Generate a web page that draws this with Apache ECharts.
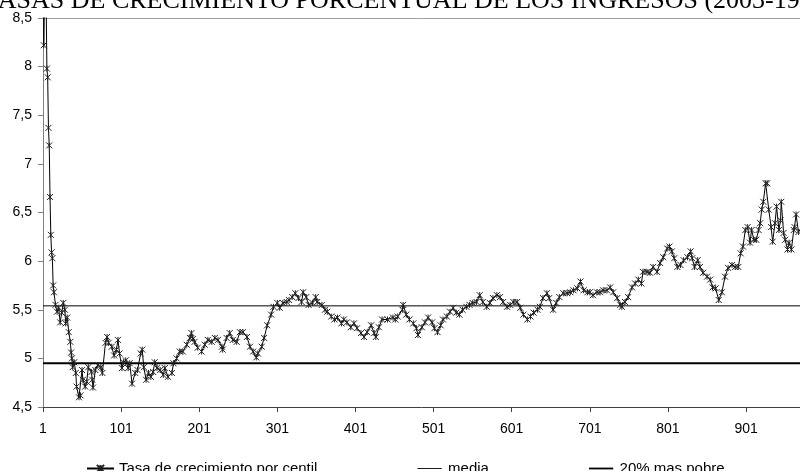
<!DOCTYPE html>
<html>
<head>
<meta charset="utf-8">
<title>Tasas de crecimiento porcentual de los ingresos</title>
<script src="https://cdn.jsdelivr.net/npm/echarts@6/dist/echarts.min.js"></script>
<style>
  html, body { margin: 0; padding: 0; background: #fff; }
  #chart { width: 800px; height: 471px; }
</style>
</head>
<body>
<div id="chart"></div>
<script>
var myChart = echarts.init(document.getElementById('chart'));

// centiles (x) and their growth rate (y)
var centil = [
    1, 2, 4, 6, 7, 8, 9, 10, 11, 12, 13, 14, 15, 17, 19, 21, 23, 25, 27, 29,
    30, 32, 34, 36, 37, 38, 39, 41, 43, 44, 47, 49, 51, 52, 55, 57, 59, 63, 64, 65,
    68, 71, 75, 77, 81, 83, 85, 89, 92, 95, 97, 99, 102, 104, 107, 110, 112, 115, 119, 122,
    126, 128, 130, 133, 136, 139, 142, 144, 147, 151, 155, 157, 161, 166, 168, 172, 176, 180, 185, 189,
    191, 193, 195, 199, 204, 208, 212, 217, 221, 225, 230, 231, 236, 240, 244, 249, 253, 257, 262, 266,
    270, 274, 276, 281, 284, 288, 293, 296, 301, 304, 308, 313, 316, 320, 324, 328, 332, 334, 338, 341,
    346, 350, 352, 358, 362, 365, 370, 374, 378, 383, 386, 390, 395, 399, 403, 408, 412, 416, 421, 425,
    427, 431, 435, 442, 449, 452, 455, 461, 462, 466, 470, 475, 479, 481, 486, 490, 494, 499, 502, 506,
    510, 513, 518, 522, 526, 530, 534, 538, 543, 547, 551, 556, 560, 564, 569, 573, 577, 582, 586, 590,
    595, 599, 603, 608, 612, 616, 621, 625, 629, 634, 637, 641, 646, 649, 654, 658, 662, 667, 672, 676,
    680, 685, 689, 693, 698, 701, 705, 710, 714, 718, 723, 727, 731, 736, 740, 742, 746, 750, 755, 759,
    763, 767, 769, 774, 778, 782, 787, 791, 795, 800, 803, 806, 809, 813, 817, 821, 826, 830, 832, 835,
    839, 842, 846, 851, 855, 858, 862, 866, 870, 874, 878, 883, 887, 891, 894, 897, 900, 903, 906, 908,
    911, 914, 917, 919, 921, 923, 926, 928, 930, 933, 935, 938, 940, 943, 945, 946, 949, 951, 954, 956,
    959, 962, 963, 965, 968, 972
];
var tasa = [
    10.4, 8.22, 9.4, 7.98, 7.89, 7.37, 7.19, 6.66, 6.27, 6.09, 6.03, 5.75, 5.68, 5.55, 5.48, 5.52, 5.37, 5.47, 5.57, 5.5,
    5.36, 5.42, 5.27, 5.17, 5.06, 5.0, 4.91, 4.96, 4.85, 4.71, 4.6, 4.62, 4.88, 4.78, 4.71, 4.76, 4.91, 4.86, 4.78, 4.7,
    4.88, 4.93, 4.91, 4.85, 5.16, 5.22, 5.16, 5.12, 5.03, 5.09, 5.19, 5.05, 4.9, 4.96, 4.98, 4.9, 4.95, 4.74, 4.85, 4.88,
    5.05, 5.09, 4.91, 4.78, 4.85, 4.81, 4.86, 4.96, 4.9, 4.88, 4.83, 4.9, 4.81, 4.85, 4.95, 5.0, 5.07, 5.07, 5.14, 5.21,
    5.26, 5.2, 5.17, 5.11, 5.07, 5.14, 5.19, 5.17, 5.21, 5.19, 5.12, 5.09, 5.21, 5.26, 5.19, 5.17, 5.27, 5.27, 5.22, 5.12,
    5.07, 5.01, 5.05, 5.12, 5.21, 5.34, 5.45, 5.53, 5.57, 5.52, 5.57, 5.58, 5.6, 5.63, 5.67, 5.62, 5.58, 5.68, 5.63, 5.55,
    5.57, 5.63, 5.58, 5.55, 5.5, 5.48, 5.43, 5.4, 5.42, 5.36, 5.4, 5.37, 5.32, 5.36, 5.31, 5.26, 5.22, 5.27, 5.34, 5.26,
    5.22, 5.32, 5.4, 5.4, 5.42, 5.4, 5.43, 5.5, 5.55, 5.45, 5.4, 5.36, 5.31, 5.24, 5.32, 5.37, 5.42, 5.37, 5.31, 5.27,
    5.34, 5.4, 5.43, 5.48, 5.52, 5.47, 5.45, 5.5, 5.53, 5.55, 5.57, 5.58, 5.65, 5.58, 5.53, 5.57, 5.62, 5.65, 5.63, 5.58,
    5.53, 5.55, 5.58, 5.58, 5.52, 5.45, 5.4, 5.43, 5.47, 5.5, 5.53, 5.62, 5.67, 5.62, 5.5, 5.57, 5.63, 5.67, 5.67, 5.68,
    5.7, 5.72, 5.79, 5.7, 5.68, 5.68, 5.65, 5.68, 5.68, 5.7, 5.7, 5.73, 5.68, 5.62, 5.55, 5.53, 5.58, 5.63, 5.73, 5.77,
    5.81, 5.77, 5.89, 5.89, 5.88, 5.94, 5.89, 5.98, 6.04, 6.13, 6.15, 6.1, 6.03, 5.94, 5.96, 6.01, 6.04, 6.1, 6.03, 5.94,
    6.01, 5.94, 5.88, 5.84, 5.81, 5.73, 5.72, 5.6, 5.68, 5.84, 5.93, 5.96, 5.94, 5.94, 6.08, 6.15, 6.32, 6.35, 6.19, 6.32,
    6.22, 6.22, 6.32, 6.39, 6.53, 6.61, 6.8, 6.8, 6.53, 6.35, 6.2, 6.39, 6.56, 6.32, 6.42, 6.61, 6.29, 6.22, 6.12, 6.19,
    6.12, 6.32, 6.35, 6.48, 6.3, 6.35
];
var media = 5.54;
var pobre20 = 4.95;
var xTicks = [1, 101, 201, 301, 401, 501, 601, 701, 801, 901];
// the picture is cut at the right edge, around centile 970
var xMin = 1, xMax = 970;

var tasaData = centil.map(function (c, i) { return [c, tasa[i]]; });

var option = {
    backgroundColor: '#fff',
    animation: false,
    title: {
        text: 'TASAS DE CRECIMIENTO PORCENTUAL DE LOS INGRESOS (2003-1998)',
        left: -16,
        top: -12,
        padding: 0,
        textStyle: {
            fontFamily: 'Liberation Serif',
            fontSize: 26,
            fontWeight: 'normal',
            color: '#000'
        }
    },
    legend: {
        left: 81,
        top: 456,
        itemGap: 100,
        itemWidth: 27,
        itemHeight: 9,
        textStyle: {
            fontFamily: 'Liberation Sans',
            fontSize: 15,
            color: '#000'
        },
        data: [
            { name: 'Tasa de crecimiento por centil' },
            { name: 'media', icon: 'path://M0,0L0,0M0,4.5L27,4.5L27,5.5L0,5.5ZM0,10L0,10' },
            { name: '20% mas pobre', icon: 'path://M0,0L0,0M0,4L27,4L27,6L0,6ZM0,10L0,10' }
        ]
    },
    grid: {
        left: 43,
        top: 18,
        right: 0,
        bottom: 64
    },
    xAxis: [
        {
            type: 'value',
            min: xMin,
            max: xMax,
            splitLine: { show: false },
            axisLine: { lineStyle: { color: '#404040' } },
            axisTick: {
                customValues: xTicks,
                length: 5,
                lineStyle: { color: '#404040' }
            },
            axisLabel: {
                customValues: xTicks,
                margin: 15,
                fontFamily: 'Liberation Sans',
                fontSize: 14,
                color: '#000'
            }
        },
        {
            // top border of the plot area
            type: 'value',
            position: 'top',
            min: xMin,
            max: xMax,
            splitLine: { show: false },
            axisLine: { show: true, lineStyle: { color: '#a0a0a0' } },
            axisTick: { show: false },
            axisLabel: { show: false }
        }
    ],
    yAxis: {
        type: 'value',
        min: 4.5,
        max: 8.5,
        interval: 0.5,
        splitLine: { show: false },
        axisLine: { show: true, lineStyle: { color: '#808080' } },
        axisTick: { show: true, length: 5, lineStyle: { color: '#808080' } },
        axisLabel: {
            margin: 11,
            fontFamily: 'Liberation Sans',
            fontSize: 14,
            color: '#000',
            formatter: function (v) { return String(v).replace('.', ','); }
        }
    },
    series: [
        {
            name: 'Tasa de crecimiento por centil',
            type: 'line',
            data: tasaData,
            clip: true,
            symbol: 'path://M0,0L10,10M10,0L0,10M5,0L5,10',
            symbolSize: 6,
            color: '#000',
            lineStyle: { color: '#000', width: 1 },
            itemStyle: { color: '#000', borderColor: '#222', borderWidth: 1 },
            z: 3
        },
        {
            name: 'media',
            type: 'line',
            data: [[xMin, media], [xMax, media]],
            symbol: 'none',
            color: '#000',
            lineStyle: { color: '#000', width: 1 },
            z: 2
        },
        {
            name: '20% mas pobre',
            type: 'line',
            data: [[xMin, pobre20], [xMax, pobre20]],
            symbol: 'none',
            color: '#000',
            lineStyle: { color: '#000', width: 2 },
            z: 2
        }
    ]
};

myChart.setOption(option);
</script>
</body>
</html>
